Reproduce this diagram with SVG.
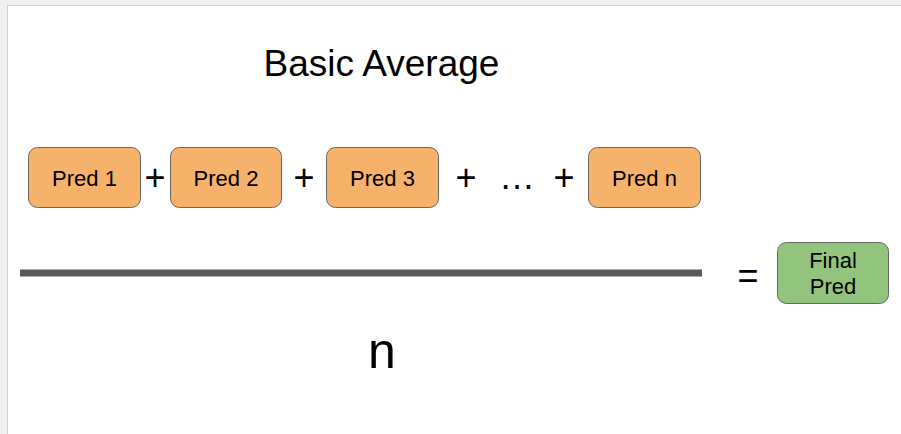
<svg xmlns="http://www.w3.org/2000/svg" width="901" height="434" viewBox="0 0 901 434">
<style>
  text { font-family: "Liberation Sans", Arial, sans-serif; fill: #000; }
  .pred rect { fill: #f6b26b; stroke: #666666; stroke-width: 1; }
  .final rect { fill: #93c47d; stroke: #666666; stroke-width: 1; }
  .lbl { font-size: 22px; text-anchor: middle; }
  .op { font-size: 36px; text-anchor: middle; }
</style>
<rect x="0" y="0" width="901" height="434" fill="#f1f1f1"/>
<rect x="7.5" y="5.5" width="900" height="440" fill="#ffffff" stroke="#d0d0d0"/>
<text x="381.5" y="76" font-size="37" text-anchor="middle">Basic Average</text>
<g id="pred1" class="pred"><rect x="28.5" y="147.5" width="112" height="60" rx="9"/><text class="lbl" x="84.5" y="186">Pred 1</text></g>
<g id="pred2" class="pred"><rect x="170.5" y="147.5" width="111" height="60" rx="9"/><text class="lbl" x="226" y="186">Pred 2</text></g>
<g id="pred3" class="pred"><rect x="326.5" y="147.5" width="112" height="60" rx="9"/><text class="lbl" x="382.5" y="186">Pred 3</text></g>
<g id="predn" class="pred"><rect x="588.5" y="147.5" width="112" height="60" rx="9"/><text class="lbl" x="644.5" y="186">Pred n</text></g>
<g id="final" class="final"><rect x="777.5" y="242.5" width="111" height="61" rx="9"/><text class="lbl" x="833" y="268">Final</text><text class="lbl" x="833" y="294">Pred</text></g>
<g id="connectors">
  <text class="op" x="155" y="190">+</text>
  <text class="op" x="304" y="190">+</text>
  <text class="op" x="466" y="190">+</text>
  <text class="op" x="517" y="189">…</text>
  <text class="op" x="564" y="190">+</text>
  <rect x="20" y="269.5" width="682" height="7" fill="#595959"/>
  <text class="op" x="748" y="287.5">=</text>
  <text x="382" y="368" font-size="50" text-anchor="middle">n</text>
</g>
</svg>
